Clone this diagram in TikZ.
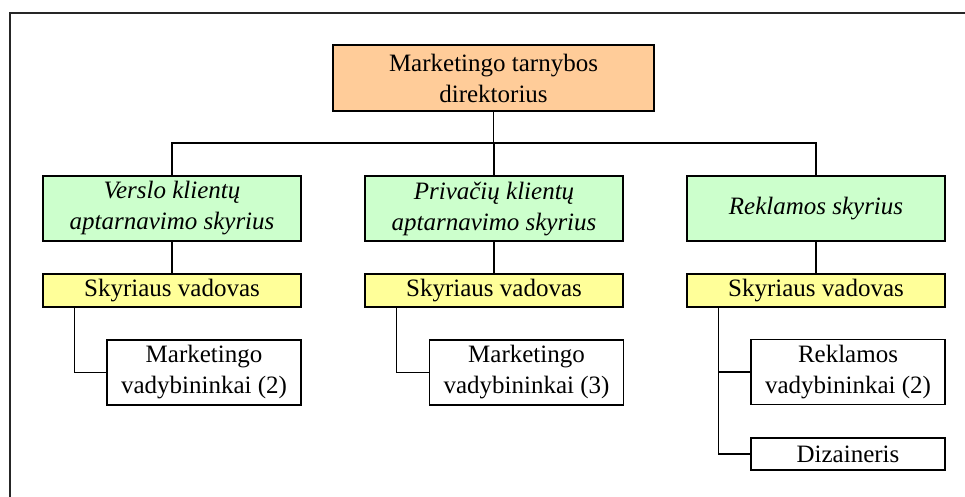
\documentclass[tikz,border=0pt]{standalone}
\usepackage{fontspec}
\setmainfont{Liberation Serif}
\definecolor{headfill}{HTML}{FFCC99}
\definecolor{deptfill}{HTML}{CCFFCC}
\definecolor{leadfill}{HTML}{FFFF99}
\begin{document}
\begin{tikzpicture}[x=1pt,y=-1pt,
  box/.style={draw=black,line width=1.4pt,inner sep=0pt,align=center,
    font=\fontsize{25}{31}\selectfont},
  headbox/.style={box,fill=headfill,minimum width=321pt,minimum height=66pt},
  deptbox/.style={box,fill=deptfill,minimum width=258pt,minimum height=65pt,
    font=\fontsize{25}{31}\selectfont\itshape},
  leadbox/.style={box,fill=leadfill,minimum width=258pt,minimum height=33pt},
  staffbox/.style={box,fill=white,minimum width=194pt,minimum height=65pt},
  smallbox/.style={box,fill=white,minimum width=194pt,minimum height=32pt},
  link/.style={draw=black,line width=1.4pt}]
\useasboundingbox (0,0) rectangle (965,496);
% outer frame (runs past the right and bottom edges)
\draw[line width=1.8pt,black!85] (10,520) -- (10,13) -- (990,13);

% director
\node[headbox] (top) at (493.5,78) {Marketingo tarnybos\\direktorius};

% departments
\node[deptbox] (d1) at (172,208.5) {Verslo klientų\\aptarnavimo skyrius};
\node[deptbox] (d2) at (494,208.5) {Privačių klientų\\aptarnavimo skyrius};
\node[deptbox] (d3) at (816,208.5) {Reklamos skyrius};

% department heads
\node[leadbox] (h1) at (172,290.5) {Skyriaus vadovas};
\node[leadbox] (h2) at (494,290.5) {Skyriaus vadovas};
\node[leadbox] (h3) at (816,290.5) {Skyriaus vadovas};

% staff
\node[staffbox] (s1) at (204,372.5) {Marketingo\\vadybininkai (2)};
\node[staffbox] (s2) at (526.5,372.5) {Marketingo\\vadybininkai (3)};
\node[staffbox] (s3) at (848,372) {Reklamos\\vadybininkai (2)};
\node[smallbox] (s4) at (848,454) {Dizaineris};

% connectors
\coordinate (bus) at (493.5,143);
\draw[link] (top.south) -- (bus);
\draw[link] (d1.north) |- (bus) -| (d3.north);
\draw[link] (d2.north) -- (d2.north |- bus);
\draw[link] (d1.south) -- (h1.north);
\draw[link] (d2.south) -- (h2.north);
\draw[link] (d3.south) -- (h3.north);
\draw[link] ([xshift=32pt]h1.south west) |- (s1.west);
\draw[link] ([xshift=32pt]h2.south west) |- (s2.west);
\draw[link] ([xshift=32pt]h3.south west) |- (s3.west);
\draw[link] ([xshift=32pt]h3.south west) |- (s4.west);
\end{tikzpicture}
\end{document}
